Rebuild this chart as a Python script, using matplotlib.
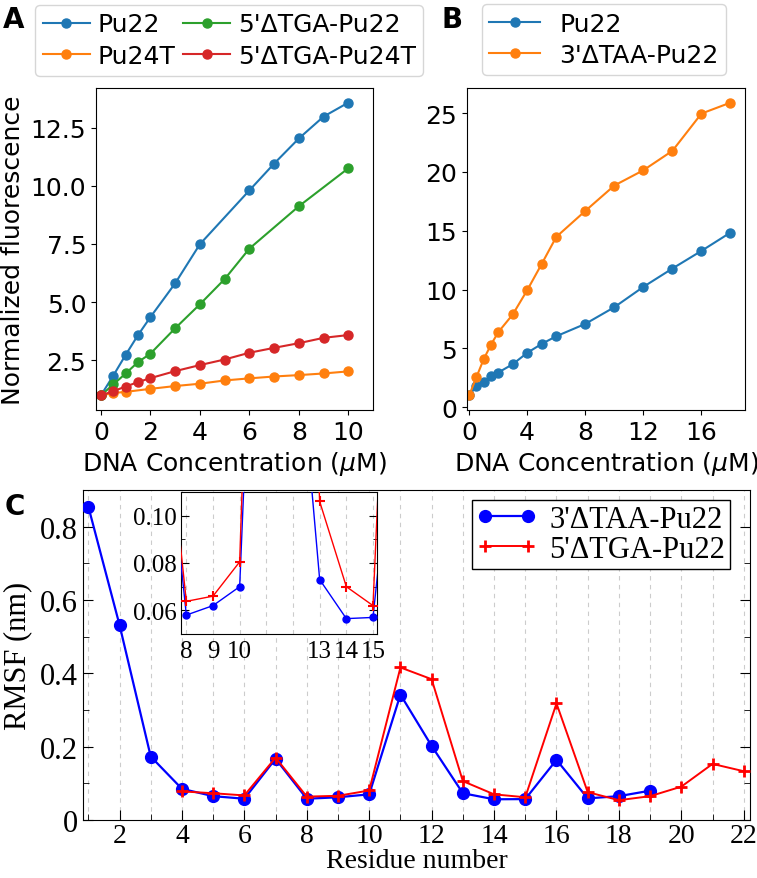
import matplotlib
matplotlib.use("Agg")
import matplotlib.pyplot as plt
from matplotlib.ticker import MultipleLocator, FixedLocator

# ---------------- Panel A data ----------------
a_pu22_x = [0, 0.5, 1, 1.5, 2, 3, 4, 6, 7, 8, 9, 10]
a_pu22_y = [1.0, 1.85, 2.74, 3.59, 4.36, 5.81, 7.49, 9.80, 10.95, 12.03, 12.97, 13.57]
a_pu24t_x = [0, 0.5, 1, 2, 3, 4, 5, 6, 7, 8, 9, 10]
a_pu24t_y = [1.0, 1.10, 1.15, 1.28, 1.40, 1.50, 1.64, 1.73, 1.81, 1.87, 1.94, 2.03]
a_tga22_x = [0, 0.5, 1, 1.5, 2, 3, 4, 5, 6, 8, 10]
a_tga22_y = [1.0, 1.47, 1.94, 2.43, 2.79, 3.88, 4.91, 5.99, 7.30, 9.12, 10.75]
a_tga24t_x = [0, 0.5, 1, 1.5, 2, 3, 4, 5, 6, 7, 8, 9, 10]
a_tga24t_y = [1.0, 1.18, 1.38, 1.57, 1.74, 2.04, 2.30, 2.54, 2.83, 3.04, 3.24, 3.47, 3.59]
a_labels = ["Pu22", "Pu24T", "5'ΔTGA-Pu22", "5'ΔTGA-Pu24T"]

# ---------------- Panel B data ----------------
b_x = [0, 0.5, 1, 1.5, 2, 3, 4, 5, 6, 8, 10, 12, 14, 16, 18]
b_pu22_y = [1.0, 1.78, 2.15, 2.63, 2.94, 3.65, 4.62, 5.38, 6.03, 7.08, 8.50, 10.23, 11.79, 13.29, 14.85]
b_taa_y = [1.0, 2.55, 4.08, 5.30, 6.37, 7.88, 9.95, 12.19, 14.48, 16.69, 18.85, 20.15, 21.80, 24.97, 25.90]
b_labels = ["Pu22", "3'ΔTAA-Pu22"]

# ---------------- Panel C data ----------------
c_taa_x = list(range(1, 20))
c_taa_y = [0.855, 0.532, 0.173, 0.085, 0.065, 0.058, 0.167, 0.058, 0.062, 0.070,
           0.342, 0.202, 0.073, 0.0565, 0.057, 0.164, 0.059, 0.065, 0.080]
c_tga_x = list(range(4, 23))
c_tga_y = [0.078, 0.073, 0.067, 0.170, 0.0638, 0.066, 0.0805, 0.416, 0.384, 0.106,
           0.070, 0.062, 0.318, 0.076, 0.054, 0.065, 0.091, 0.153, 0.133]
c_labels = ["3'ΔTAA-Pu22", "5'ΔTGA-Pu22"]
c_inset_xticks = [8, 9, 10, 13, 14, 15]

W, H = 757, 879
fig = plt.figure(figsize=(W / 100, H / 100), dpi=100)

def rect(l, t, r, b):
    return [l / W, 1 - b / H, (r - l) / W, (b - t) / H]

FS = 18
tab = ["#1f77b4", "#ff7f0e", "#2ca02c", "#d62728"]

# ---------------- Panel A ----------------
axA = fig.add_axes(rect(96, 89, 373, 411))
ms = 6.5
lA = []
for (x, y, c, lab) in [(a_pu22_x, a_pu22_y, tab[0], a_labels[0]),
                       (a_pu24t_x, a_pu24t_y, tab[1], a_labels[1]),
                       (a_tga22_x, a_tga22_y, tab[2], a_labels[2]),
                       (a_tga24t_x, a_tga24t_y, tab[3], a_labels[3])]:
    ln, = axA.plot(x, y, "-o", color=c, ms=ms, lw=1.5, label=lab)
    lA.append(ln)
axA.set_xlim(-0.2, 11)
axA.set_xticks([0, 2, 4, 6, 8, 10])
axA.set_yticks([2.5, 5.0, 7.5, 10.0, 12.5])
axA.tick_params(labelsize=FS)
axA.set_xlabel("DNA Concentration ($\\mu$M)", fontsize=FS)
axA.set_ylabel("Normalized fluorescence", fontsize=FS)
fig.legend(handles=lA, labels=a_labels, ncol=2, fontsize=FS,
           loc="upper left", bbox_to_anchor=(35 / W, 1 - 6 / H),
           handletextpad=0.3, columnspacing=0.3, borderaxespad=0,
           borderpad=0.3, labelspacing=0.3, handlelength=1.9)

# ---------------- Panel B ----------------
axB = fig.add_axes(rect(467, 89, 745, 411))
lB1, = axB.plot(b_x, b_pu22_y, "-o", color=tab[0], ms=ms, lw=1.5)
lB2, = axB.plot(b_x, b_taa_y, "-o", color=tab[1], ms=ms, lw=1.5)
axB.set_xlim(-0.15, 19)
axB.set_xticks([0, 4, 8, 12, 16])
axB.set_yticks([0, 5, 10, 15, 20, 25])
axB.tick_params(labelsize=FS)
axB.set_xlabel("DNA Concentration ($\\mu$M)", fontsize=FS)
fig.legend(handles=[lB1, lB2], labels=b_labels, fontsize=FS,
           loc="upper left", bbox_to_anchor=(482 / W, 1 - 5 / H),
           borderaxespad=0, borderpad=0.3, labelspacing=0.3)

fig.text(14 / W, 1 - 20 / H, "A", fontsize=20, fontweight="bold", ha="center", va="center")
fig.text(452 / W, 1 - 20 / H, "B", fontsize=20, fontweight="bold", ha="center", va="center")
fig.text(15 / W, 1 - 507 / H, "C", fontsize=20, fontweight="bold", ha="center", va="center")

# ---------------- Panel C ----------------
serif = ["Liberation Serif", "DejaVu Serif"]
CFS = 22
axC = fig.add_axes(rect(83, 491, 750, 821))
for xv in range(1, 23):
    axC.axvline(xv, color="#cccccc", lw=0.8, ls=(0, (4, 4)), zorder=0)
axC.plot(c_taa_x, c_taa_y, "-o", color="#0000ff", ms=8.5, lw=1.6, label=c_labels[0], zorder=3)
axC.plot(c_tga_x, c_tga_y, "-+", color="#ff0000", ms=9, mew=2, lw=1.4, label=c_labels[1], zorder=4)
axC.set_xlim(0.83, 22.2)
axC.set_ylim(0, 0.9)
axC.xaxis.set_major_locator(MultipleLocator(2))
axC.xaxis.set_minor_locator(MultipleLocator(1))
axC.yaxis.set_major_locator(FixedLocator([0, 0.2, 0.4, 0.6, 0.8]))
axC.yaxis.set_minor_locator(MultipleLocator(0.1))
axC.set_yticklabels(["0", "0.2", "0.4", "0.6", "0.8"])
axC.tick_params(which="both", direction="in", right=True, top=False, labelsize=CFS)
axC.tick_params(axis="x", which="major", labelsize=20, pad=2)
axC.tick_params(which="major", length=7)
axC.tick_params(which="minor", length=4)
for lab in axC.get_xticklabels() + axC.get_yticklabels():
    lab.set_family(serif)
axC.set_xlabel("Residue number", fontsize=20, family=serif, labelpad=0)
axC.set_ylabel("RMSF (nm)", fontsize=CFS, family=serif, labelpad=6)
legC = axC.legend(loc="upper right", bbox_to_anchor=(730 / W, 1 - 501 / H),
                  bbox_transform=fig.transFigure, numpoints=2,
                  prop={"family": serif, "size": CFS}, fancybox=False,
                  edgecolor="black", framealpha=1, borderaxespad=0,
                  borderpad=0.15, labelspacing=0.05, handletextpad=0.4,
                  handlelength=2.0)
legC.get_frame().set_linewidth(1.0)

# inset
axI = fig.add_axes(rect(181, 493, 377, 635))
for xv in range(8, 16):
    axI.axvline(xv, color="#cccccc", lw=0.8, ls=(0, (4, 4)), zorder=0)
axI.plot(c_taa_x, c_taa_y, "-o", color="#0000ff", ms=5, lw=1.0, zorder=3)
axI.plot(c_tga_x, c_tga_y, "-+", color="#ff0000", ms=7, mew=1.5, lw=1.0, zorder=4)
axI.set_xlim(7.8, 15.15)
axI.set_ylim(0.05, 0.11)
axI.set_xticks(c_inset_xticks)
axI.yaxis.set_major_locator(FixedLocator([0.06, 0.08, 0.10]))
axI.yaxis.set_minor_locator(FixedLocator([0.07, 0.09]))
axI.set_yticklabels(["0.06", "0.08", "0.10"])
axI.tick_params(which="both", direction="in", right=True, labelsize=18)
axI.tick_params(axis="x", length=0, pad=4)
axI.tick_params(which="major", axis="y", length=6, pad=3)
axI.tick_params(which="minor", axis="y", length=3)
for lab in axI.get_xticklabels() + axI.get_yticklabels():
    lab.set_family(serif)

fig.savefig("out.png", dpi=100)
